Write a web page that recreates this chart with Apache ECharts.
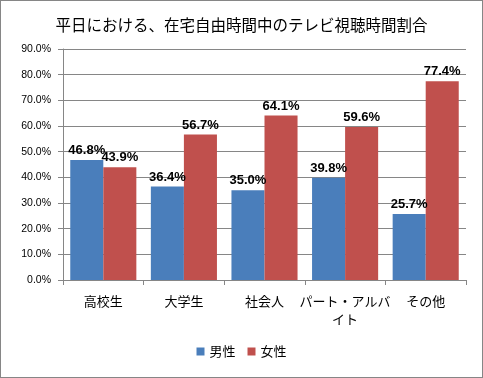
<!DOCTYPE html>
<html>
<head>
<meta charset="utf-8">
<script src="https://cdn.jsdelivr.net/npm/echarts@6/dist/echarts.min.js"></script>
<style>
  html, body { margin: 0; padding: 0; background: #fff; }
  #chart { width: 483px; height: 378px; box-sizing: border-box; border: 1px solid #868686; }
</style>
</head>
<body>
<div id="chart"></div>
<script>
const categories = ["高校生", "大学生", "社会人", "パート・アルバ\nイト", "その他"];
const male = [46.8, 36.4, 35.0, 39.8, 25.7];
const female = [43.9, 56.7, 64.1, 59.6, 77.4];
const seriesNames = ["男性", "女性"];

const chart = echarts.init(document.getElementById("chart"), null, { renderer: "canvas" });

const labelStyle = {
  show: true,
  position: "top",
  distance: 3,
  color: "#000",
  fontWeight: "bold",
  fontSize: 13,
  fontFamily: "Liberation Sans, Arial, sans-serif",
  formatter: (p) => p.value.toFixed(1) + "%",
};

const option = {
  animation: false,
  title: {
    text: "平日における、在宅自由時間中のテレビ視聴時間割合",
    left: "center",
    top: 11,
    textStyle: {
      fontFamily: "Noto Sans CJK JP",
      fontWeight: "normal",
      fontSize: 15.5,
      color: "#000",
    },
  },
  legend: {
    bottom: 14,
    left: "center",
    itemWidth: 8,
    itemHeight: 8,
    itemGap: 12,
    icon: "rect",
    textStyle: { fontFamily: "Noto Sans CJK JP", fontSize: 13, color: "#000" },
    data: seriesNames,
  },
  grid: { left: 62, right: 16, top: 48, bottom: 97 },
  xAxis: {
    type: "category",
    data: categories,
    axisLine: { lineStyle: { color: "#868686" } },
    axisTick: { show: true, length: 5, lineStyle: { color: "#868686" } },
    axisLabel: {
      fontFamily: "Noto Sans CJK JP",
      fontSize: 13,
      color: "#000",
      margin: 12,
      lineHeight: 18,
      interval: 0,
    },
  },
  yAxis: {
    type: "value",
    min: 0,
    max: 90,
    interval: 10,
    axisLine: { show: true, lineStyle: { color: "#868686" } },
    axisTick: { show: true, length: 5, lineStyle: { color: "#868686" } },
    splitLine: { lineStyle: { color: "#868686" } },
    axisLabel: {
      fontFamily: "Liberation Sans, Arial, sans-serif",
      fontSize: 10.5,
      color: "#000",
      margin: 12,
      formatter: (v) => v.toFixed(1) + "%",
    },
  },
  series: [
    {
      name: seriesNames[0],
      type: "bar",
      data: male,
      barGap: "0%",
      barCategoryGap: "18%",
      itemStyle: { color: "#4A7EBB" },
      label: labelStyle,
    },
    {
      name: seriesNames[1],
      type: "bar",
      data: female,
      itemStyle: { color: "#C0504D" },
      label: labelStyle,
    },
  ],
};

chart.setOption(option);
</script>
</body>
</html>
